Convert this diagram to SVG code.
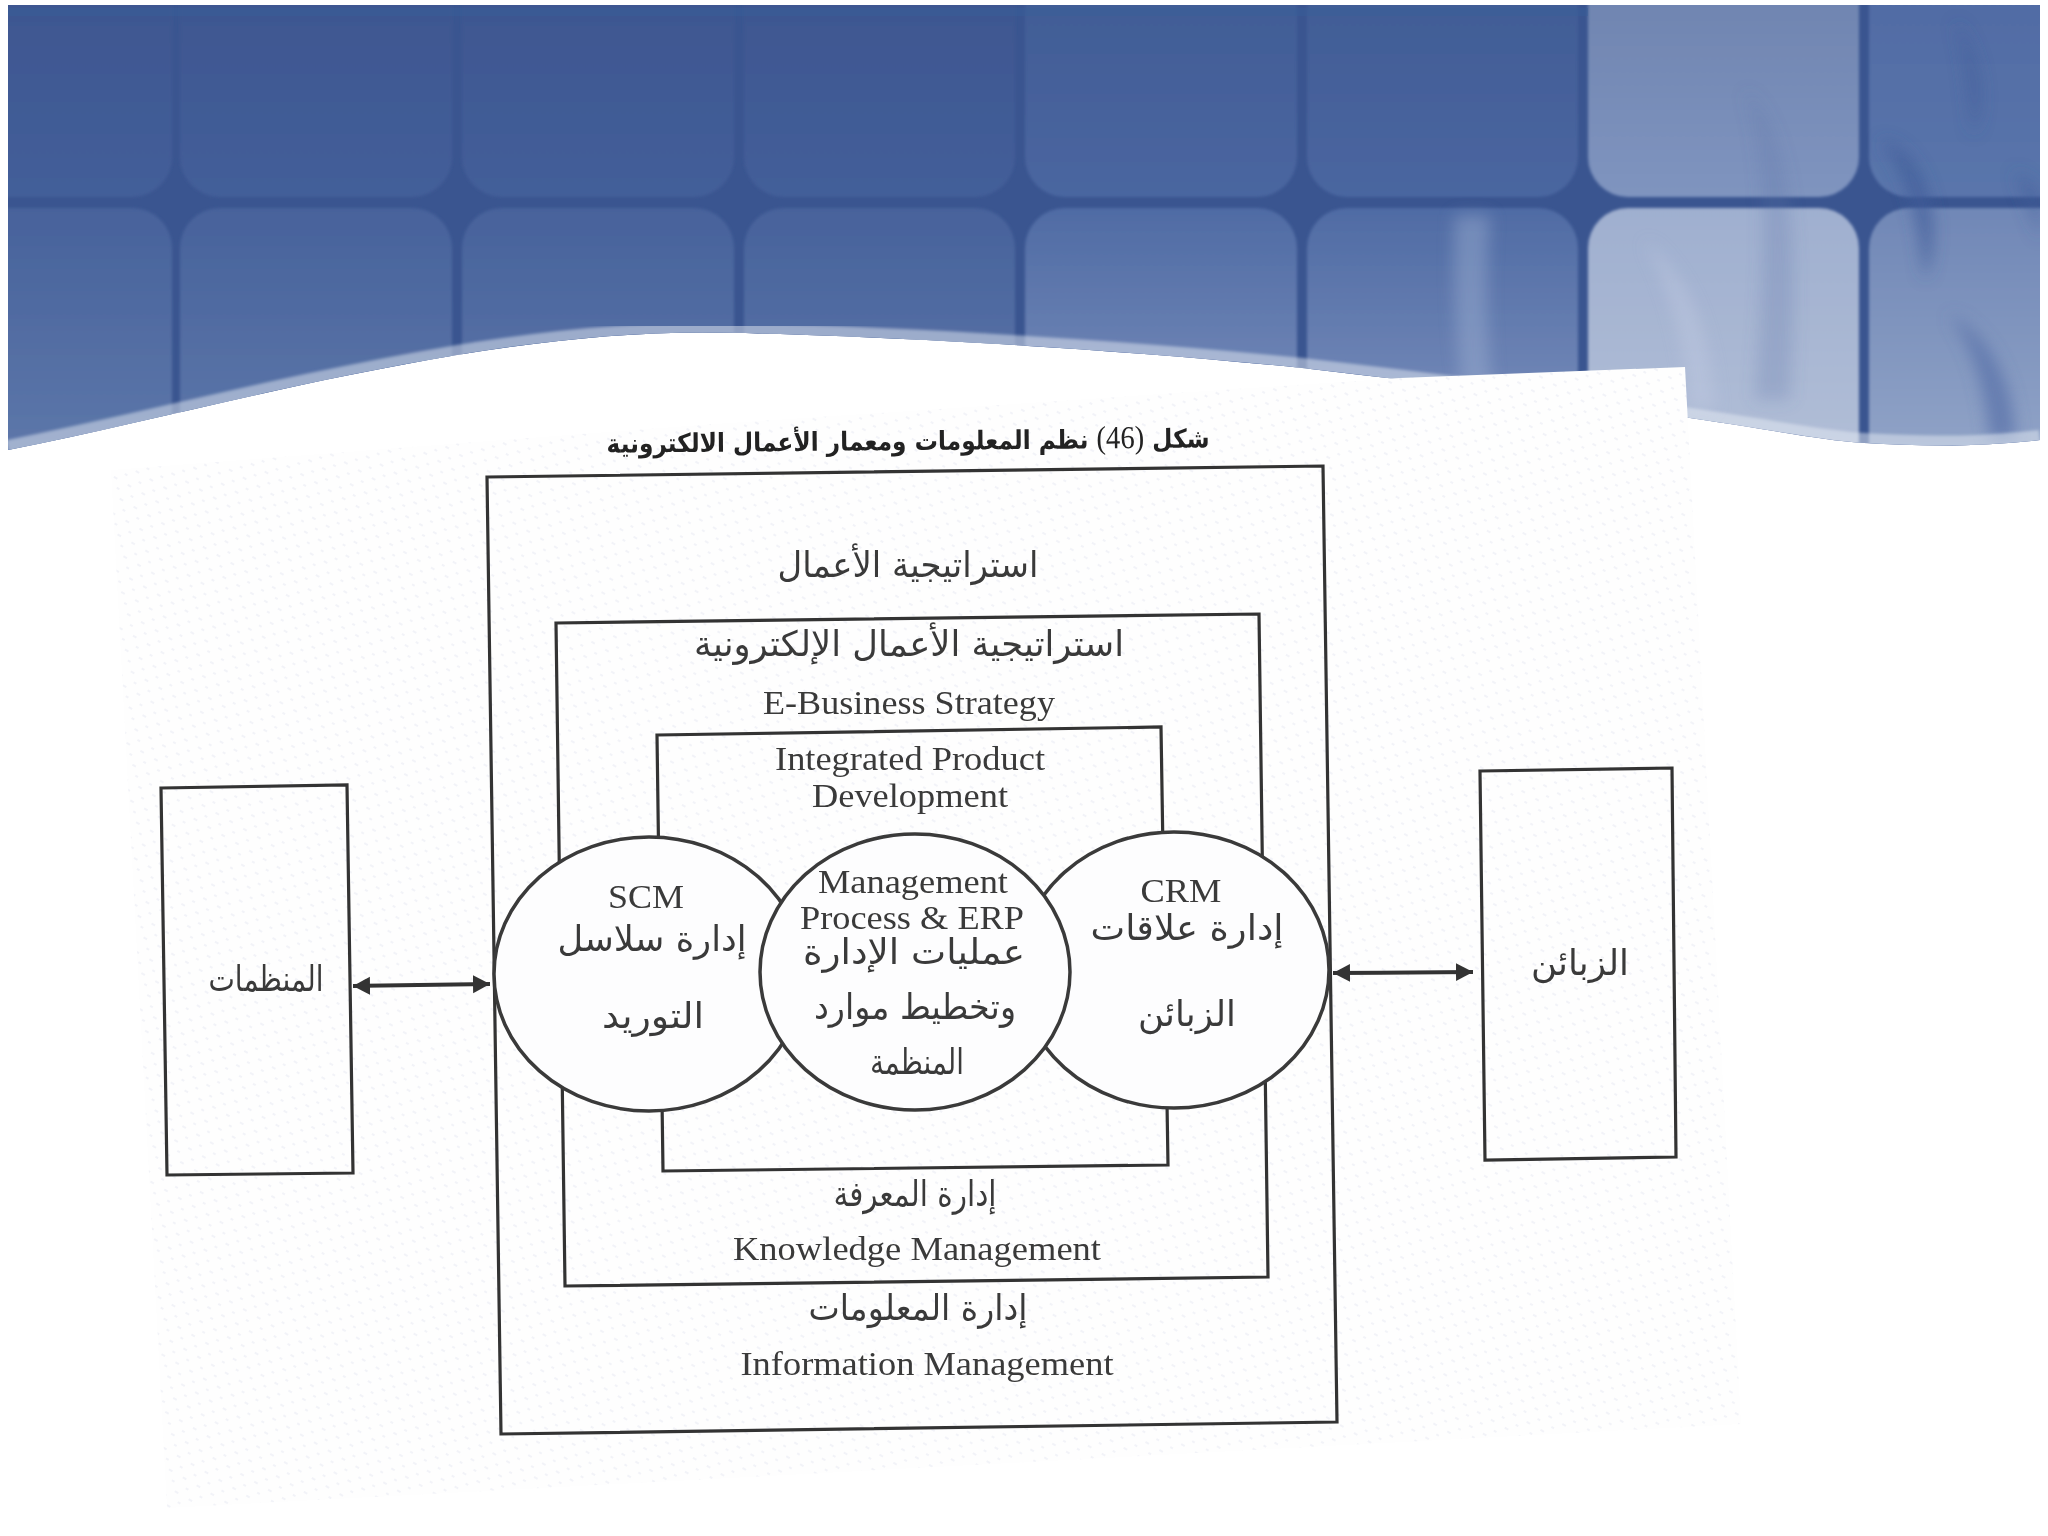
<svg xmlns="http://www.w3.org/2000/svg" width="2048" height="1536" viewBox="0 0 2048 1536">
<style>
.box{fill:none;stroke:#333;stroke-width:3.2}
.circ{fill:#fdfdfe;stroke:#3a3a3a;stroke-width:3.5}
.en{font-family:"Liberation Serif","Times New Roman",serif;font-size:34px;fill:#3a3a3a;text-anchor:middle}
.ar{font-family:"DejaVu Sans","Liberation Sans",sans-serif;font-size:35px;fill:#3a3a3a;text-anchor:middle}
.title{font-family:"DejaVu Sans","Liberation Sans",sans-serif;font-size:26px;font-weight:bold;fill:#222;text-anchor:middle}
.num{font-family:"Liberation Serif","Times New Roman",serif;font-weight:normal;font-size:32px}
.arrow{stroke:#333;stroke-width:4;fill:none;marker-start:url(#head);marker-end:url(#head)}
</style>
<defs>
<linearGradient id="topTile" x1="0" y1="0" x2="0" y2="1"><stop offset="0" stop-color="#3c5590"/><stop offset="0.3" stop-color="#3e5791"/><stop offset="1" stop-color="#435e99"/></linearGradient>
<linearGradient id="botTile" x1="0" y1="0" x2="0" y2="1"><stop offset="0" stop-color="#47629b"/><stop offset="0.6" stop-color="#5c76a9"/></linearGradient>
<linearGradient id="topTile2" x1="0" y1="0" x2="0" y2="1"><stop offset="0" stop-color="#3e5992"/><stop offset="1" stop-color="#4a66a0"/></linearGradient>
<linearGradient id="botTile2" x1="0" y1="0" x2="0" y2="1"><stop offset="0" stop-color="#4f6ba4"/><stop offset="0.6" stop-color="#7a8ebb"/></linearGradient>
<linearGradient id="topLight" x1="0" y1="0" x2="0" y2="1"><stop offset="0" stop-color="#6b80ac"/><stop offset="1" stop-color="#7f94bf"/></linearGradient>
<linearGradient id="botLight" x1="0" y1="0" x2="0" y2="1"><stop offset="0" stop-color="#9fafcf"/><stop offset="0.6" stop-color="#b0bdd6"/></linearGradient>
<linearGradient id="topLast" x1="0" y1="0" x2="0" y2="1"><stop offset="0" stop-color="#4d68a2"/><stop offset="1" stop-color="#5a75ab"/></linearGradient>
<linearGradient id="botLast" x1="0" y1="0" x2="0" y2="1"><stop offset="0" stop-color="#7087b6"/><stop offset="0.6" stop-color="#8fa2c6"/></linearGradient>
<clipPath id="bannerClip"><path d="M8 450 C150 422 280 385 457 355 C560 338 650 330 740 333 C850 335 1100 347 1302 368 C1450 385 1580 402 1690 418 C1780 431 1820 440 1864 443 C1930 447 1990 446 2040 440 V5 H8 Z"/></clipPath>
<filter id="blur" x="-50%" y="-50%" width="200%" height="200%"><feGaussianBlur stdDeviation="8"/></filter>
<filter id="soft" x="-5%" y="-5%" width="110%" height="110%"><feGaussianBlur stdDeviation="1.6"/></filter>
<pattern id="hatch" width="16" height="16" patternUnits="userSpaceOnUse" patternTransform="rotate(30)"><rect width="16" height="16" fill="#fefefe"/><path d="M1 4H5M9 12H12" stroke="#eef0f6" stroke-width="1.6"/></pattern>
<marker id="head" markerUnits="userSpaceOnUse" markerWidth="20" markerHeight="22" refX="17" refY="11" orient="auto-start-reverse"><path d="M0 2 L17 11 L0 20 Z" fill="#333"/></marker>
</defs>

<rect width="2048" height="1536" fill="#ffffff"/>
<g id="banner" clip-path="url(#bannerClip)">
<rect x="8" y="5" width="2032" height="450" fill="#3a5590"/>
<g filter="url(#soft)">
<rect x="-60" y="-60" width="232" height="257" rx="40" fill="url(#topTile)"/>
<rect x="180" y="-60" width="272" height="257" rx="40" fill="url(#topTile)"/>
<rect x="462" y="-60" width="272" height="257" rx="40" fill="url(#topTile)"/>
<rect x="744" y="-60" width="271" height="257" rx="40" fill="url(#topTile)"/>
<rect x="1025" y="-60" width="272" height="257" rx="40" fill="url(#topTile2)"/>
<rect x="1307" y="-60" width="271" height="257" rx="40" fill="url(#topTile2)"/>
<rect x="1588" y="-60" width="271" height="257" rx="40" fill="url(#topLight)"/>
<rect x="1869" y="-60" width="270" height="257" rx="40" fill="url(#topLast)"/>
<rect x="-60" y="208" width="232" height="400" rx="40" fill="url(#botTile)"/>
<rect x="180" y="208" width="272" height="400" rx="40" fill="url(#botTile)"/>
<rect x="462" y="208" width="272" height="400" rx="40" fill="url(#botTile)"/>
<rect x="744" y="208" width="271" height="400" rx="40" fill="url(#botTile)"/>
<rect x="1025" y="208" width="272" height="400" rx="40" fill="url(#botTile2)"/>
<rect x="1307" y="208" width="271" height="400" rx="40" fill="url(#botTile2)"/>
<rect x="1588" y="208" width="271" height="400" rx="40" fill="url(#botLight)"/>
<rect x="1869" y="208" width="270" height="400" rx="40" fill="url(#botLast)"/>
</g>
<rect x="8" y="8" width="1580" height="8" fill="#38609a" opacity="0.45"/>
<g filter="url(#blur)">
<path d="M1455 215 C1452 280 1456 340 1462 390 L1492 390 C1486 330 1486 270 1490 215 Z" fill="#a6b6d6" opacity="0.4"/>
<path d="M1745 90 C1790 130 1800 230 1790 400 L1755 400 C1765 260 1770 170 1745 90 Z" fill="#5d75a8" opacity="0.25"/>
<path d="M1645 240 C1690 280 1710 330 1715 410 L1690 410 C1685 340 1670 290 1645 240 Z" fill="#c2cee3" opacity="0.4"/>
<path d="M1955 20 C1985 60 1985 110 1973 135 C1968 90 1965 50 1955 20 Z" fill="#3f5c99" opacity="0.55"/>
<path d="M1880 140 C1925 150 1945 220 1925 280 C1918 220 1910 175 1880 140 Z" fill="#3f5c99" opacity="0.7"/>
<path d="M1950 315 C1990 335 2015 385 2015 440 L1990 440 C1985 390 1975 350 1950 315 Z" fill="#5d74ab" opacity="0.8"/>
<path d="M2015 170 L2040 190 L2040 240 C2030 210 2020 190 2015 170 Z" fill="#3f5c99" opacity="0.5"/>
</g>
<path d="M8 450 C150 422 280 385 457 355 C560 338 650 330 740 333 C850 335 1100 347 1302 368 C1450 385 1580 402 1690 418 C1780 431 1820 440 1864 443 C1930 447 1990 446 2040 440" fill="none" stroke="#e6ebf4" stroke-opacity="0.5" stroke-width="20" filter="url(#soft)"/>
</g>
<polygon id="paper" points="1400,378 1685,367 1741,1424 167,1508 111,470 700,425" fill="url(#hatch)"/>

<g id="frame-business-strategy"><polygon class="box" points="487,477 1323,466 1337,1422 501,1434"/></g>
<g id="frame-ebusiness-strategy"><polygon class="box" points="556,623 1259,614 1268,1277 565,1286"/></g>
<g id="frame-integrated-product"><polygon class="box" points="657,735 1161,727 1168,1165 663,1171"/></g>

<text class="title" x="908" y="450" textLength="603" lengthAdjust="spacingAndGlyphs" transform="rotate(-0.5 908 441)">شكل <tspan class="num">(46)</tspan> نظم المعلومات ومعمار الأعمال الالكترونية</text>
<text class="ar" x="908" y="577" textLength="261" lengthAdjust="spacingAndGlyphs">استراتيجية الأعمال</text>
<text class="ar" x="909" y="656" textLength="430" lengthAdjust="spacingAndGlyphs">استراتيجية الأعمال الإلكترونية</text>
<text class="en" x="909" y="714" textLength="292" lengthAdjust="spacingAndGlyphs">E-Business Strategy</text>
<text class="en" x="910" y="770" textLength="270" lengthAdjust="spacingAndGlyphs">Integrated Product</text>
<text class="en" x="910" y="807" textLength="196" lengthAdjust="spacingAndGlyphs">Development</text>
<text class="ar" x="915" y="1206" textLength="163" lengthAdjust="spacingAndGlyphs">إدارة المعرفة</text>
<text class="en" x="917" y="1260" textLength="368" lengthAdjust="spacingAndGlyphs">Knowledge Management</text>
<text class="ar" x="918" y="1320" textLength="219" lengthAdjust="spacingAndGlyphs">إدارة المعلومات</text>
<text class="en" x="927" y="1375" textLength="373" lengthAdjust="spacingAndGlyphs">Information Management</text>

<g id="node-scm"><ellipse class="circ" cx="649" cy="974" rx="155" ry="137"/>
<text class="en" x="646" y="908" textLength="76" lengthAdjust="spacingAndGlyphs">SCM</text>
<text class="ar" x="652" y="951" textLength="189" lengthAdjust="spacingAndGlyphs">إدارة سلاسل</text>
<text class="ar" x="653" y="1028" textLength="102" lengthAdjust="spacingAndGlyphs">التوريد</text></g>
<g id="node-crm"><ellipse class="circ" cx="1174" cy="970" rx="155" ry="138"/>
<text class="en" x="1181" y="902" textLength="81" lengthAdjust="spacingAndGlyphs">CRM</text>
<text class="ar" x="1187" y="940" textLength="193" lengthAdjust="spacingAndGlyphs">إدارة علاقات</text>
<text class="ar" x="1187" y="1026" textLength="98" lengthAdjust="spacingAndGlyphs">الزبائن</text></g>
<g id="node-erp"><ellipse class="circ" cx="915" cy="972" rx="155" ry="138"/>
<text class="en" x="913" y="893" textLength="190" lengthAdjust="spacingAndGlyphs">Management</text>
<text class="en" x="912" y="929" textLength="224" lengthAdjust="spacingAndGlyphs">Process &amp; ERP</text>
<text class="ar" x="914" y="964" textLength="222" lengthAdjust="spacingAndGlyphs">عمليات الإدارة</text>
<text class="ar" x="915" y="1019" textLength="202" lengthAdjust="spacingAndGlyphs">وتخطيط موارد</text>
<text class="ar" x="917" y="1074" textLength="94" lengthAdjust="spacingAndGlyphs">المنظمة</text></g>

<g id="node-organizations"><polygon class="box" points="161,788 347,785 353,1173 167,1175"/>
<text class="ar" x="266" y="991" textLength="115" lengthAdjust="spacingAndGlyphs">المنظمات</text></g>
<g id="node-customers"><polygon class="box" points="1480,771 1672,768 1676,1157 1485,1160"/>
<text class="ar" x="1580" y="975" textLength="98" lengthAdjust="spacingAndGlyphs">الزبائن</text></g>

<g id="connectors">
<line class="arrow" x1="353" y1="986" x2="490" y2="984"/>
<line class="arrow" x1="1333" y1="973" x2="1473" y2="972"/>
</g>
</svg>
